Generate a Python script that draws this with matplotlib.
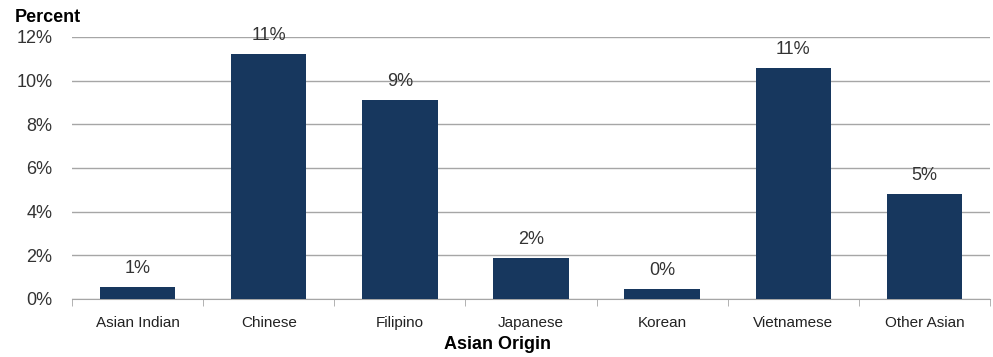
import numpy as np
import matplotlib.pyplot as plt

plt.rcParams['font.family'] = ['Liberation Sans Narrow', 'Liberation Sans', 'DejaVu Sans']

# Data
origins = ["Asian Indian", "Chinese", "Filipino", "Japanese", "Korean", "Vietnamese", "Other Asian"]
percent = [0.55, 11.22, 9.12, 1.88, 0.46, 10.58, 4.81]
labels = ["1%", "11%", "9%", "2%", "0%", "11%", "5%"]

fig = plt.figure(figsize=(9.93, 3.57), dpi=100)
ax = fig.add_axes([0.0725, 0.1625, 0.9245, 0.734])

x = np.arange(len(origins))
bars = ax.bar(x, percent, width=0.575, color='#17375E', zorder=3)

for b, lab in zip(bars, labels):
    ax.text(b.get_x() + b.get_width() / 2, b.get_height() + 0.45, lab,
            ha='center', va='bottom', fontsize=13, color='#333333')

ax.set_xlim(-0.5, len(origins) - 0.5)
ax.set_ylim(0, 12)
ax.set_yticks(np.arange(0, 13, 2))
ax.set_yticklabels([f"{v}%" for v in range(0, 13, 2)], fontsize=13, color='#333333')
ax.yaxis.grid(True, color='#A6A6A6', linewidth=1, zorder=0)
ax.tick_params(axis='y', length=0, pad=14)

ax.set_xticks(x)
ax.set_xticklabels(origins, fontsize=11, color='#222222')
ax.set_xticks(np.arange(-0.5, len(origins), 1), minor=True)
ax.tick_params(axis='x', which='major', length=0, pad=12)
ax.tick_params(axis='x', which='minor', length=5, color='#A6A6A6', direction='out')

for s in ['top', 'right', 'left']:
    ax.spines[s].set_visible(False)
ax.spines['bottom'].set_color('#A6A6A6')

fig.text(0.015, 0.952, "Percent", fontsize=13, fontweight='bold', ha='left', va='center')
fig.text(0.501, 0.034, "Asian Origin", fontsize=13, fontweight='bold', ha='center', va='center')

fig.savefig("out.png", dpi=100)
